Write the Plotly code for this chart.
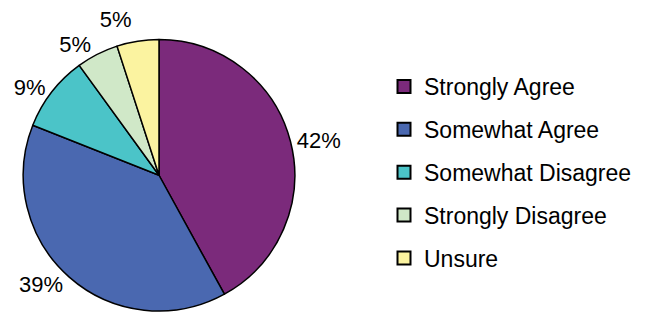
import plotly.graph_objects as go

categories = ["Strongly Agree", "Somewhat Agree", "Somewhat Disagree", "Strongly Disagree", "Unsure"]
values = [42, 39, 9, 5, 5]
colors = ["#7B2A7B", "#4A68B0", "#4BC4C8", "#D0E8C8", "#FBF3A0"]

FONT = "Liberation Sans, Arial, sans-serif"

fig = go.Figure()
fig.add_trace(go.Pie(
    labels=categories,
    values=values,
    sort=False,
    direction="clockwise",
    rotation=0,
    marker=dict(colors=colors, line=dict(color="black", width=1.5)),
    texttemplate="%{percent:.0%}",
    textposition="outside",
    textfont=dict(family=FONT, size=22, color="black"),
    domain=dict(x=[20 / 663, 298 / 663], y=[0.0, 0.873]),
    showlegend=False,
    hoverinfo="label+percent",
))

# legend entries (one per category, same colours)
for i, (c, col) in enumerate(zip(categories, colors)):
    fig.add_trace(go.Scatter(
        x=[None], y=[None], mode="markers", name=c,
        legendgroup=f"g{i}",
        marker=dict(symbol="square", size=13, color=col, line=dict(color="black", width=2)),
        showlegend=True,
    ))

fig.update_layout(
    width=663, height=316,
    margin=dict(l=0, r=0, t=0, b=0),
    paper_bgcolor="white", plot_bgcolor="white",
    xaxis=dict(visible=False), yaxis=dict(visible=False),
    font=dict(family=FONT, size=23, color="black"),
    legend=dict(
        x=384 / 663, xanchor="left", y=1 - 66 / 316, yanchor="top",
        font=dict(family=FONT, size=23, color="black"),
        tracegroupgap=10, bgcolor="rgba(0,0,0,0)",
    ),
)

fig.write_html(
    "out.html",
    config={"displayModeBar": False},
    post_script="document.body.style.margin='0px';"
                "document.querySelectorAll('path.textline').forEach(function(e){e.remove();});",
)
